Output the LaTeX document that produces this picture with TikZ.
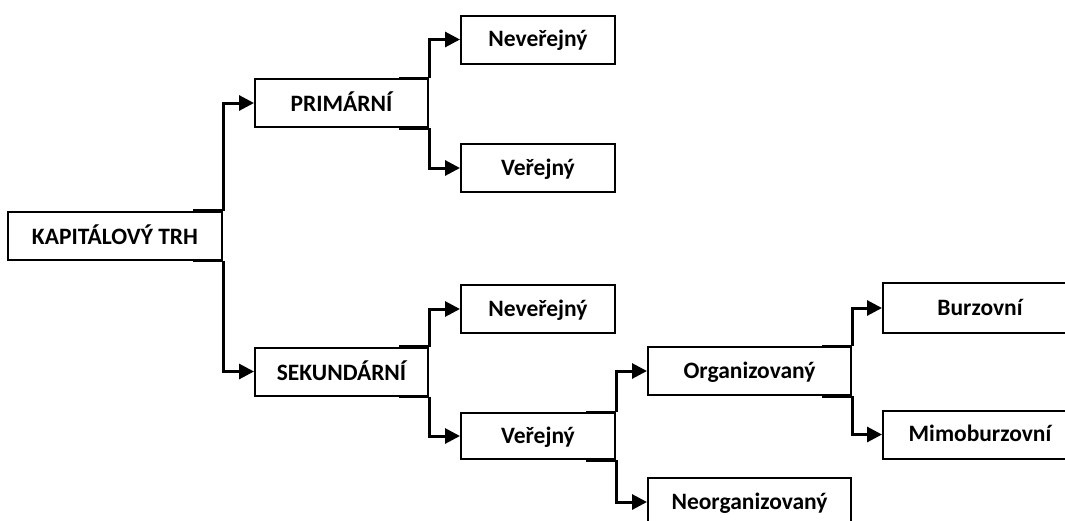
\documentclass[tikz,border=0pt]{standalone}
\usepackage{fontspec}
\setmainfont{Carlito}
\usepackage{tikz}
\usetikzlibrary{arrows.meta}
\tikzset{
    market-box/.style = {draw=black, fill=white, line width=2pt, rectangle, inner sep=0pt, minimum height=48pt, text depth=2pt, font=\fontsize{23.5}{28}\selectfont\bfseries},
    market-link/.style = {draw=black, line width=3pt, -{Triangle[length=15pt,width=15pt]}},
    market-stub/.style = {draw=black, line width=3pt},
}

\begin{document}
\begin{tikzpicture}[x=1pt, y=-1pt]
\path[use as bounding box, clip] (0,0) rectangle (1065,520);

% levels of the market
\node[market-box, minimum width=214pt] (root) at (115,235.5) {KAPITÁLOVÝ TRH};
\node[market-box, minimum width=173pt] (prim) at (341.5,103) {PRIMÁRNÍ};
\node[market-box, minimum width=173pt] (seku) at (341.5,371.5) {SEKUNDÁRNÍ};
\node[market-box, minimum width=154pt] (prim-neve) at (538,39.5) {Neveřejný};
\node[market-box, minimum width=154pt] (prim-vere) at (538,168) {Veřejný};
\node[market-box, minimum width=154pt] (seku-neve) at (538,309) {Neveřejný};
\node[market-box, minimum width=154pt, minimum height=46pt] (seku-vere) at (538,436) {Veřejný};
\node[market-box, minimum width=203pt] (orga) at (749.5,371) {Organizovaný};
\node[market-box, minimum width=203pt] (neorg) at (749.5,502) {Neorganizovaný};
\node[market-box, minimum width=194pt, minimum height=50pt] (burz) at (980,308) {Burzovní};
\node[market-box, minimum width=194pt] (mimo) at (980,434.5) {Mimoburzovní};

% connectors
\foreach \from/\up/\down in {root/prim/seku, prim/prim-neve/prim-vere, seku/seku-neve/seku-vere, seku-vere/orga/neorg, orga/burz/mimo}{
    \draw[market-stub] ([xshift=-30pt]\from.north east) -- (\from.north east);
    \draw[market-stub] ([xshift=-30pt]\from.south east) -- (\from.south east);
    \draw[market-link] (\from.north east) |- (\up);
    \draw[market-link] (\from.south east) |- (\down);
}
\end{tikzpicture}
\end{document}
